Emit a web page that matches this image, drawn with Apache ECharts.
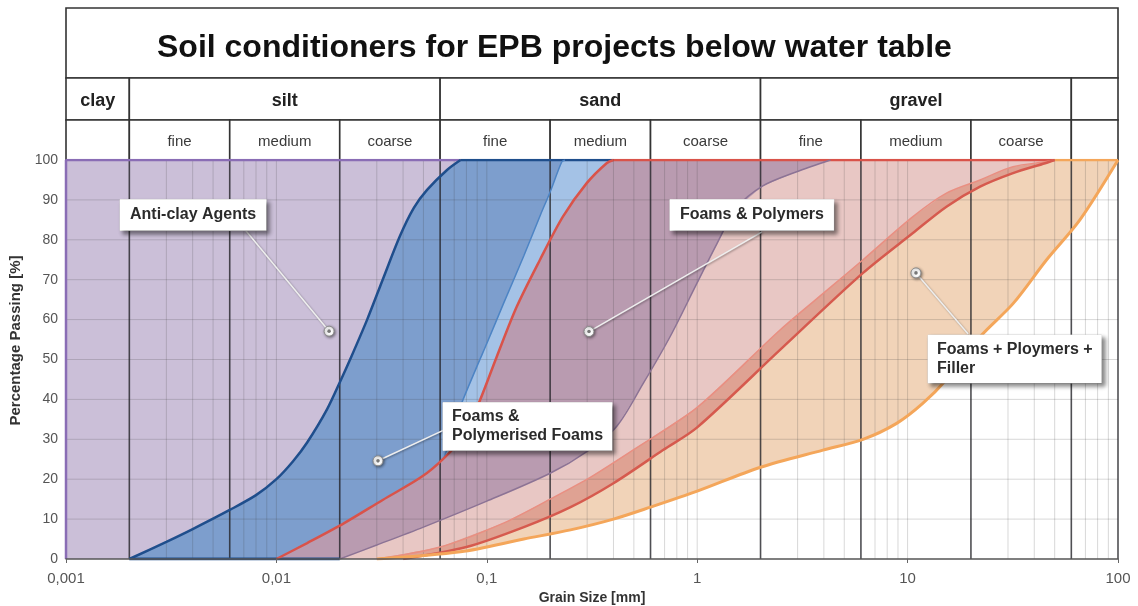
<!DOCTYPE html>
<html>
<head>
<meta charset="utf-8">
<script src="https://cdn.jsdelivr.net/npm/echarts@6/dist/echarts.min.js"></script>
<style>
  html, body { margin: 0; padding: 0; background: #fff; }
  #chart { width: 1138px; height: 606px; }
</style>
</head>
<body>
<div id="chart"></div>
<script>
// grading curves: [grain size in mm, percentage passing]
var antiClayEdge = [[0.001, 0], [0.001, 100]];
var blueUpper = [[0.002, 0], [0.003, 4.3], [0.004, 7.5], [0.006, 12.3], [0.008, 16], [0.01, 20], [0.012, 24.5],
  [0.014, 29.2], [0.0174, 37.5], [0.0203, 45], [0.0224, 50], [0.027, 60], [0.032, 70], [0.0387, 81],
  [0.045, 88], [0.052, 92.5], [0.0647, 97.5], [0.075, 100]];
var blueInner = [[0.0626, 25.3], [0.068, 31], [0.0746, 38], [0.09, 48.4], [0.1, 54], [0.12, 64], [0.15, 76],
  [0.18, 86.3], [0.2, 92], [0.227, 99.5], [0.235, 100]];
var redUpper = [[0.01, 0], [0.014, 4], [0.021, 9], [0.032, 14.8], [0.049, 20.6], [0.0626, 25.3], [0.078, 31],
  [0.0928, 39.8], [0.1115, 50.7], [0.1387, 63.2], [0.179, 75], [0.23, 85.8], [0.2985, 94.2], [0.371, 99.2], [0.4, 100]];
var purpleLower = [[0.02, 0], [0.03, 3.5], [0.05, 8], [0.1, 14.5], [0.2, 21.5], [0.3, 27], [0.414, 33.2],
  [0.554, 44], [0.743, 55.7], [0.995, 69], [1.24, 79], [1.54, 88], [2.05, 93.5], [2.95, 97], [4.3, 100]];
var bandUpper = [[0.03, 0], [0.06, 3], [0.12, 9], [0.2, 15], [0.3, 20], [0.495, 27.3], [1, 38], [2.475, 57.4],
  [4.28, 68], [6.14, 75], [10.6, 85.8], [15.3, 91.7], [22.1, 95], [31.7, 98.3], [45.8, 99.6], [50, 100]];
var bandLower = [[0.04, 0], [0.08, 3], [0.15, 8], [0.25, 13], [0.4, 19], [0.688, 27.3], [1, 33], [2.475, 52.4],
  [6.14, 71.7], [10.6, 81.7], [15.3, 88.3], [22.1, 93.3], [31.7, 96.7], [45, 99.2], [50, 100]];
var orangeLower = [[0.03, 0], [0.075, 1.8], [0.15, 5], [0.25, 7.3], [0.4, 10], [0.6, 13], [1, 17], [2, 23],
  [3.96, 27.3], [6.14, 30], [8.87, 34], [11.8, 39], [15.3, 45], [22.1, 55.7], [31.7, 64], [45.8, 75],
  [65.9, 85], [100, 100]];

var xTickLabels = ['0,001', '0,01', '0,1', '1', '10', '100'];
var yTicks = [0, 10, 20, 30, 40, 50, 60, 70, 80, 90, 100];

// soil classification header
var soilBounds = [0.002, 0.006, 0.02, 0.06, 0.2, 0.6, 2, 6, 20, 60];
var classBounds = [0.002, 0.06, 2, 60];
var soilClasses = ['clay', 'silt', 'sand', 'gravel', ''];
var soilSubs = ['', 'fine', 'medium', 'coarse', 'fine', 'medium', 'coarse', 'fine', 'medium', 'coarse', ''];

// callouts: text, marker point, end of the leader line, box anchor
var calloutTexts = ['Anti-clay Agents', 'Foams & Polymers', 'Foams &\nPolymerised Foams', 'Foams + Ploymers +\nFiller'];
var calloutDots = [[0.0178, 57.1], [0.306, 57], [0.0304, 24.6], [10.96, 71.7]];
var calloutEnds = [[0.0071, 82.5], [2.03, 82], [0.0654, 32.8], [19.4, 56.4]];
var calloutBoxes = [[0.00402, 86.2], [1.82, 86.2], [0.0619, 33.2], [12.5, 50.1]];

var X_MIN = 0.001, X_MAX = 100;
var FONT = '"Liberation Sans", Arial, sans-serif';

// header rows in header-axis units (0 at top)
var rows = { title: [0, 70], cls: [70, 112], sub: [112, 152] };

function edges(bounds) {
  return [X_MIN].concat(bounds, [X_MAX]);
}
var headerCells = [{ x0: X_MIN, x1: X_MAX, row: 'title', text: '' }];
var ce = edges(classBounds);
soilClasses.forEach(function (t, i) { headerCells.push({ x0: ce[i], x1: ce[i + 1], row: 'cls', text: t }); });
var se = edges(soilBounds);
soilSubs.forEach(function (t, i) { headerCells.push({ x0: se[i], x1: se[i + 1], row: 'sub', text: t }); });

// minor vertical grid lines of the log axis
var minorX = [];
for (var k = -3; k <= 1; k++) {
  for (var n = 1; n <= 9; n++) {
    var v = +(n * Math.pow(10, k)).toPrecision(6);
    if (v > X_MIN && soilBounds.indexOf(v) < 0) minorX.push(v);
  }
}
var boundLines = soilBounds.concat([X_MAX]);

function poly(upper, lower) { return upper.concat(lower.slice().reverse()); }
var blueLowerEdge = redUpper.filter(function (p) { return p[0] < blueInner[0][0]; }).concat(blueInner);
var zones = [
  { pts: poly(redUpper, orangeLower), color: '#f1d3b8' },
  { pts: poly(redUpper, bandLower), color: '#e8c7c4' },
  { pts: poly(bandUpper, bandLower), color: '#dfa293' },
  { pts: poly(redUpper, purpleLower), color: '#b99bb0' },
  { pts: poly(antiClayEdge, blueUpper), color: '#cbbfd8' },
  { pts: poly(blueUpper, redUpper), color: '#a4c2e6' },
  { pts: poly(blueUpper, blueLowerEdge), color: '#7d9ecd' }
];

function outline(name, data, color, width, smooth) {
  return {
    name: name, type: 'line', data: data, showSymbol: false, smooth: smooth ? 0.3 : false,
    silent: true, z: 6, lineStyle: { color: color, width: width }
  };
}

var chart = echarts.init(document.getElementById('chart'), null, { renderer: 'canvas' });
var option = {
  animation: false,
  backgroundColor: '#fff',
  title: {
    text: 'Soil conditioners for EPB projects below water table',
    left: 152, top: 27,
    textStyle: { fontFamily: FONT, fontSize: 32, fontWeight: 'bold', color: '#111' }
  },
  grid: [
    { left: 66, right: 20, top: 160, bottom: 47, outerBoundsMode: 'none', containLabel: false },
    { left: 66, right: 20, top: 8, height: 152, outerBoundsMode: 'none', containLabel: false }
  ],
  xAxis: [
    {
      type: 'log', logBase: 10, min: X_MIN, max: X_MAX, gridIndex: 0, z: 10,
      name: 'Grain Size [mm]', nameLocation: 'middle', nameGap: 31,
      nameTextStyle: { fontFamily: FONT, fontSize: 14, fontWeight: 'bold', color: '#333' },
      axisLine: { lineStyle: { color: '#555', width: 1.5 } },
      axisTick: { show: true, length: 4, lineStyle: { color: '#666' } },
      axisLabel: {
        fontFamily: FONT, fontSize: 15, color: '#555', margin: 12,
        formatter: function (v) { return xTickLabels[Math.round(Math.log10(v)) + 3] || ''; }
      },
      splitLine: { show: false }
    },
    { type: 'log', logBase: 10, min: X_MIN, max: X_MAX, gridIndex: 1, show: false }
  ],
  yAxis: [
    {
      type: 'value', min: 0, max: 100, interval: 10, gridIndex: 0,
      name: 'Percentage Passing [%]', nameLocation: 'middle', nameGap: 41,
      nameTextStyle: { fontFamily: FONT, fontSize: 15, fontWeight: 'bold', color: '#333', padding: [0, 0, 0, 38] },
      axisLine: { show: false }, axisTick: { show: false },
      axisLabel: { fontFamily: FONT, fontSize: 14, color: '#555', margin: 8 },
      splitLine: { show: false }
    },
    { type: 'value', min: 0, max: 152, inverse: true, gridIndex: 1, show: false }
  ],
  series: [
    {
      name: 'zones', type: 'custom', z: 1, silent: true,
      data: zones.map(function (z) { return z.pts[0]; }),
      renderItem: function (params, api) {
        var z = zones[params.dataIndex];
        return {
          type: 'polygon',
          shape: { points: z.pts.map(function (p) { return api.coord(p); }) },
          style: { fill: z.color }
        };
      }
    },
    {
      name: 'grid-x', type: 'custom', z: 3, silent: true,
      data: minorX.map(function (x) { return [x, 50]; }),
      renderItem: function (params, api) {
        var x = minorX[params.dataIndex];
        var a = api.coord([x, 0]), b = api.coord([x, 100]);
        return { type: 'line', shape: { x1: a[0], y1: a[1], x2: b[0], y2: b[1] },
          style: { stroke: 'rgba(60,60,60,0.2)', lineWidth: 1 } };
      }
    },
    {
      name: 'grid-y', type: 'custom', z: 3, silent: true,
      data: yTicks.slice(1, -1).map(function (y) { return [1, y]; }),
      renderItem: function (params, api) {
        var y = yTicks[params.dataIndex + 1];
        var a = api.coord([X_MIN, y]), b = api.coord([X_MAX, y]);
        return { type: 'line', shape: { x1: a[0], y1: a[1], x2: b[0], y2: b[1] },
          style: { stroke: 'rgba(60,60,60,0.2)', lineWidth: 1 } };
      }
    },
    {
      name: 'bounds', type: 'custom', z: 4, silent: true,
      data: boundLines.map(function (x) { return [x, 50]; }),
      renderItem: function (params, api) {
        var x = boundLines[params.dataIndex];
        var a = api.coord([x, 0]), b = api.coord([x, 100]);
        return { type: 'line', shape: { x1: a[0], y1: a[1], x2: b[0], y2: b[1] },
          style: { stroke: 'rgba(35,35,40,0.8)', lineWidth: 1.6 } };
      }
    },
    {
      name: 'header', type: 'custom', xAxisIndex: 1, yAxisIndex: 1, z: 2, silent: true,
      data: headerCells.map(function (c) { return [c.x0, rows[c.row][0]]; }),
      renderItem: function (params, api) {
        var c = headerCells[params.dataIndex];
        var p0 = api.coord([c.x0, rows[c.row][0]]), p1 = api.coord([c.x1, rows[c.row][1]]);
        var bold = c.row === 'cls';
        return {
          type: 'group',
          children: [
            { type: 'rect', shape: { x: p0[0], y: p0[1], width: p1[0] - p0[0], height: p1[1] - p0[1] },
              style: { fill: '#fff', stroke: '#333', lineWidth: 1.6 } },
            { type: 'text', x: (p0[0] + p1[0]) / 2, y: (p0[1] + p1[1]) / 2 + 2,
              style: { text: c.text, align: 'center', verticalAlign: 'middle',
                font: (bold ? 'bold 18px ' : '15px ') + FONT, fill: bold ? '#222' : '#3a3a3a' } }
          ]
        };
      }
    },
    outline('anti-clay edge', antiClayEdge.concat([blueUpper[blueUpper.length - 1]]), '#8a6db5', 2.5, false),
    outline('blue bottom', [blueUpper[0], [purpleLower[0][0], 0]], '#1f4e8c', 3, false),
    outline('blue top', [blueUpper[blueUpper.length - 1], redUpper[redUpper.length - 1]], '#1f4e8c', 2.5, false),
    outline('red top', [redUpper[redUpper.length - 1], bandLower[bandLower.length - 1]], '#d9534a', 2.5, false),
    outline('orange top', [bandLower[bandLower.length - 1], orangeLower[orangeLower.length - 1]], '#f4a65a', 2.5, false),
    outline('purple', purpleLower, '#8c7395', 1.5, true),
    outline('band upper', bandUpper, '#e98f82', 1.5, true),
    outline('band lower', bandLower, '#d65a4e', 2.5, true),
    outline('orange', orangeLower, '#f4a65a', 3, true),
    outline('blue inner', blueInner, '#4d84c4', 1.5, true),
    outline('red', redUpper, '#d9534a', 2.5, true),
    outline('blue', blueUpper, '#1f4e8c', 2.5, true),
    {
      name: 'callouts', type: 'custom', z: 9, silent: true,
      data: calloutDots,
      renderItem: function (params, api) {
        var i = params.dataIndex;
        var d = api.coord(calloutDots[i]), e = api.coord(calloutEnds[i]), b = api.coord(calloutBoxes[i]);
        var multi = calloutTexts[i].indexOf('\n') >= 0;
        return {
          type: 'group',
          children: [
            { type: 'line', shape: { x1: d[0], y1: d[1], x2: e[0], y2: e[1] },
              style: { stroke: '#eeeeee', lineWidth: 1.6, shadowBlur: 2, shadowColor: 'rgba(0,0,0,0.35)',
                shadowOffsetX: 1, shadowOffsetY: 1 } },
            { type: 'circle', shape: { cx: d[0], cy: d[1], r: 5 },
              style: { fill: '#fff', stroke: '#888', lineWidth: 1, shadowBlur: 3, shadowColor: 'rgba(0,0,0,0.45)',
                shadowOffsetX: 1, shadowOffsetY: 1 } },
            { type: 'circle', shape: { cx: d[0], cy: d[1], r: 1.8 }, style: { fill: '#777' } },
            { type: 'text', x: b[0], y: b[1],
              style: { text: calloutTexts[i], align: multi ? 'left' : 'center', verticalAlign: 'middle',
                font: 'bold 16px ' + FONT, fill: '#2b2b2b', lineHeight: 19,
                backgroundColor: '#fff', padding: multi ? [5, 9] : [6, 10],
                borderColor: '#d8d8d8', borderWidth: 0.5,
                shadowBlur: 4, shadowColor: 'rgba(0,0,0,0.45)', shadowOffsetX: 3, shadowOffsetY: 3 } }
          ]
        };
      }
    }
  ]
};
chart.setOption(option);
</script>
</body>
</html>
